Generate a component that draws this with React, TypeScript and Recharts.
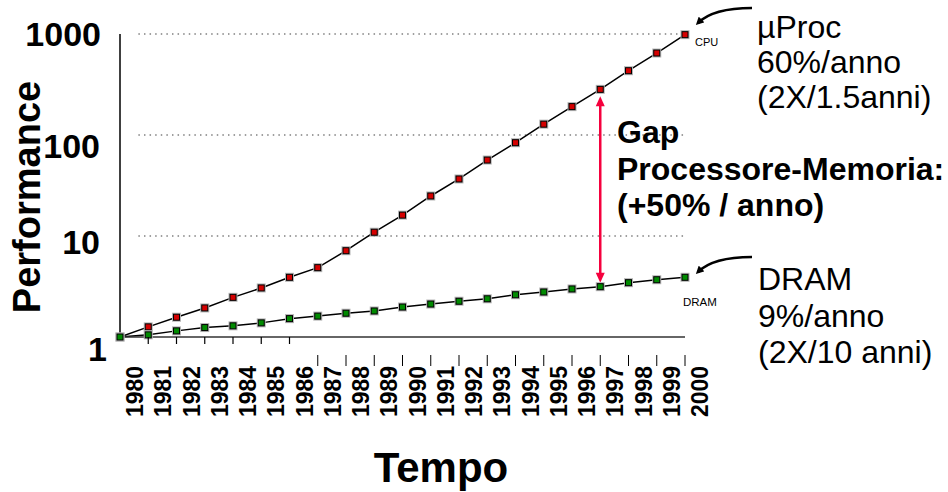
import React from 'react';
import { LineChart, Line, XAxis, YAxis, ReferenceLine } from 'recharts';

// values (log scale, 1980 = 1)
const YEARS = [1980, 1981, 1982, 1983, 1984, 1985, 1986, 1987, 1988, 1989, 1990, 1991, 1992, 1993, 1994, 1995, 1996, 1997, 1998, 1999, 2000];
const CPU = [1, 1.26, 1.57, 1.94, 2.47, 3.06, 3.9, 4.86, 7.15, 10.9, 16.1, 24.9, 36.7, 56.5, 83.9, 128, 191, 283, 433, 648, 985];
const DRAM = [1, 1.05, 1.15, 1.24, 1.29, 1.38, 1.52, 1.61, 1.72, 1.81, 1.98, 2.12, 2.26, 2.39, 2.62, 2.79, 2.99, 3.15, 3.45, 3.69, 3.9];
const Y_TICKS = [1, 10, 100, 1000];
const GRID_VALUES = [10, 100, 1000];
const GRID_START = 1980.65;
const GAP_YEAR = 1997;

const FONT = '"Liberation Sans", Arial, Helvetica, sans-serif';
const RED = '#d40000';
const GREEN = '#008a00';
const GAP_RED = '#f5003d';

const data = YEARS.map((year, i) => ({ year, cpu: CPU[i], dram: DRAM[i] }));
const gapIndex = YEARS.indexOf(GAP_YEAR);

const squareDot = (fill: string) => (props: any) => {
    const { cx, cy, index } = props;
    if (cx == null || cy == null) return <g key={index} />;
    return (
        <g key={index}>
            <rect x={cx - 4.5} y={cy - 4.5} width={9} height={9} fill="#b4b4b4" />
            <rect x={cx - 3} y={cy - 3} width={6} height={6} fill={fill} stroke="#000" strokeWidth={1} />
        </g>
    );
};

// PowerPoint-style tick labels: odd vertical offsets kept from the original
const Y_SHIFT: Record<number, number> = { 1: 12, 10: 6, 100: 11, 1000: 0 };
const Y_DX: Record<number, number> = { 1: 7, 10: 0, 100: 0, 1000: 1 };

const YTick = (props: any) => {
    const { x, y, payload } = props;
    const v = payload.value;
    return (
        <text
            x={x - 20 + (Y_DX[v] || 0)}
            y={y + (Y_SHIFT[v] || 0) + 12}
            textAnchor="end"
            fontSize={34}
            fontWeight="bold"
            fontFamily={FONT}
            fill="#000"
        >
            {v}
        </text>
    );
};

const XTick = (props: any) => {
    const { x, y, payload } = props;
    const year = payload.value;
    return (
        <g>
            {year > 1980 && year <= 1986 && (
                <line x1={x} x2={x} y1={y} y2={y + 7} stroke="#000" strokeWidth={1.2} />
            )}
            {year >= 1987 && (
                <line x1={x} x2={x} y1={y + 18} y2={y + 29} stroke="#000" strokeWidth={1} />
            )}
            <text
                transform={`translate(${x + 23},${y + 80}) rotate(-90)`}
                fontSize={23}
                fontWeight="bold"
                fontFamily={FONT}
                fill="#000"
            >
                {year}
            </text>
        </g>
    );
};

const GapArrow = (props: any) => {
    const { x1, y1, y2 } = props;
    const top = Math.min(y1, y2) + 7;
    const bottom = Math.max(y1, y2) - 4;
    return (
        <g>
            <line x1={x1} x2={x1} y1={top + 6} y2={bottom - 6} stroke={GAP_RED} strokeWidth={2.5} />
            <polygon points={`${x1},${top} ${x1 - 4.5},${top + 10} ${x1 + 4.5},${top + 10}`} fill={GAP_RED} />
            <polygon points={`${x1},${bottom} ${x1 - 4.5},${bottom - 10} ${x1 + 4.5},${bottom - 10}`} fill={GAP_RED} />
        </g>
    );
};

export default function App() {
    return (
        <div style={{ position: 'absolute', left: 0, top: 0, width: 948, height: 492, background: '#fff' }}>
            <LineChart
                width={948}
                height={492}
                data={data}
                margin={{ top: 34, right: 263, bottom: 0, left: 0 }}
            >
                <XAxis
                    dataKey="year"
                    type="number"
                    domain={[1980, 2000]}
                    ticks={YEARS}
                    interval={0}
                    height={155}
                    tickLine={false}
                    tickSize={0}
                    tickMargin={0}
                    axisLine={{ stroke: '#333', strokeWidth: 1.5 }}
                    tick={<XTick />}
                />
                <YAxis
                    scale="log"
                    type="number"
                    domain={[1, 1000]}
                    ticks={Y_TICKS}
                    width={120}
                    tickLine={false}
                    tickSize={0}
                    tickMargin={0}
                    axisLine={{ stroke: '#000', strokeWidth: 1.5 }}
                    tick={<YTick />}
                />
                {GRID_VALUES.map((v) => (
                    <ReferenceLine
                        key={v}
                        segment={[{ x: GRID_START, y: v }, { x: 2000, y: v }]}
                        stroke="#808080"
                        strokeWidth={1.5}
                        strokeDasharray="1.5 4.1"
                    />
                ))}
                <ReferenceLine
                    segment={[{ x: GAP_YEAR, y: CPU[gapIndex] }, { x: GAP_YEAR, y: DRAM[gapIndex] }]}
                    shape={<GapArrow />}
                />
                <Line
                    dataKey="cpu"
                    type="linear"
                    stroke="#000"
                    strokeWidth={1.5}
                    dot={squareDot(RED)}
                    activeDot={false}
                    isAnimationActive={false}
                />
                <Line
                    dataKey="dram"
                    type="linear"
                    stroke="#000"
                    strokeWidth={1.5}
                    dot={squareDot(GREEN)}
                    activeDot={false}
                    isAnimationActive={false}
                />
            </LineChart>

            <svg
                width={948}
                height={492}
                style={{ position: 'absolute', left: 0, top: 0, pointerEvents: 'none' }}
                fontFamily={FONT}
            >
                <defs>
                    <marker id="arrowHead" markerWidth="8" markerHeight="8" refX="5" refY="4" orient="auto" markerUnits="userSpaceOnUse">
                        <polygon points="0,0 8,4 0,8" fill="#000" />
                    </marker>
                </defs>

                <text transform="translate(40,197) rotate(-90)" textAnchor="middle" fontSize={38} fontWeight="bold">
                    Performance
                </text>
                <text x={441} y={482} textAnchor="middle" fontSize={42} fontWeight="bold">
                    Tempo
                </text>

                <text x={695} y={46} fontSize={11}>CPU</text>
                <text x={683} y={306} fontSize={11.5}>DRAM</text>

                <path d="M752,8 C728,8 708,13 698,23" fill="none" stroke="#000" strokeWidth={2.5} markerEnd="url(#arrowHead)" />
                <path d="M752,257 C728,257 708,262 698,272" fill="none" stroke="#000" strokeWidth={2.5} markerEnd="url(#arrowHead)" />

                <text x={757} y={38} fontSize={32}>µProc</text>
                <text x={757} y={73} fontSize={32}>60%/anno</text>
                <text x={757} y={108} fontSize={32}>(2X/1.5anni)</text>

                <text x={758} y={290} fontSize={32}>DRAM</text>
                <text x={758} y={327} fontSize={32}>9%/anno</text>
                <text x={758} y={363} fontSize={32}>(2X/10 anni)</text>

                <text x={617} y={143} fontSize={32} fontWeight="bold">Gap</text>
                <text x={617} y={180} fontSize={32} fontWeight="bold">Processore-Memoria:</text>
                <text x={617} y={216} fontSize={32} fontWeight="bold">(+50% / anno)</text>
            </svg>
        </div>
    );
}
